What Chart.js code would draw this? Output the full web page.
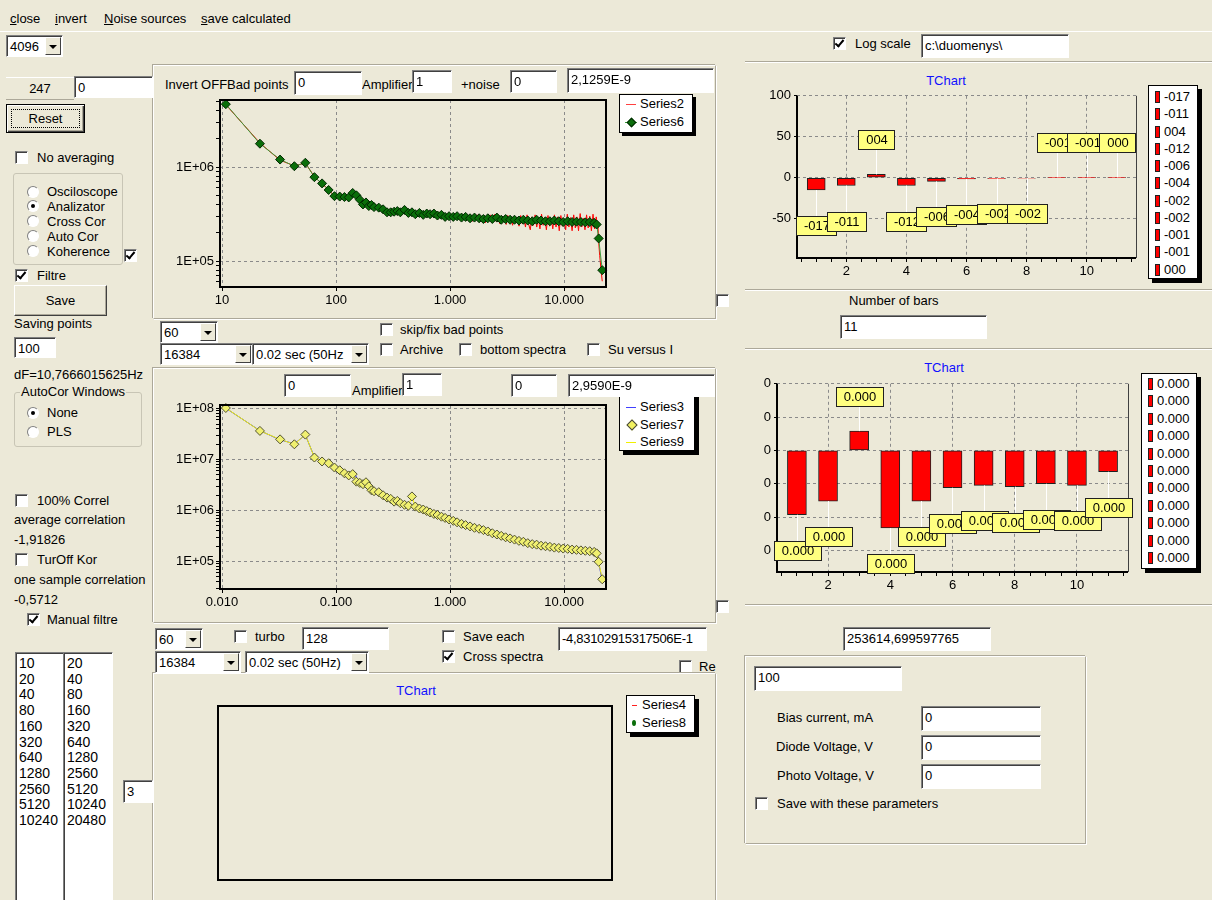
<!DOCTYPE html>
<html><head><meta charset="utf-8">
<script src="https://cdn.jsdelivr.net/npm/chart.js@4.4.1/dist/chart.umd.min.js"></script>
<style>
html,body{margin:0;padding:0;background:#ece9d8;width:1212px;height:900px;overflow:hidden;font:13px "Liberation Sans",Arial,sans-serif;color:#000}
.a{position:absolute}
.t{position:absolute;white-space:nowrap;line-height:15px}
.inp{position:absolute;background:#fff;box-sizing:border-box;border:1px solid;border-color:#808080 #fff #fff #808080;box-shadow:inset 1px 1px 0 #404040;padding:3px 0 0 3px;white-space:nowrap;overflow:hidden;line-height:15px;z-index:5}
.btn{position:absolute;box-sizing:border-box;background:#ece9d8;border:1px solid;border-color:#fff #404040 #404040 #fff;box-shadow:inset -1px -1px 0 #aca899;text-align:center}
.cb{position:absolute;width:13px;height:13px;box-sizing:border-box;background:#fff;border:1px solid;border-color:#808080 #fff #fff #808080;box-shadow:inset 1px 1px 0 #404040}
.cb.on::after{content:"";position:absolute;left:3px;top:0px;width:3px;height:7px;border:solid #000;border-width:0 2px 2px 0;transform:rotate(40deg)}
.rd{position:absolute;width:12px;height:12px;border-radius:50%;background:#fff;box-sizing:border-box;border:1px solid;border-color:#808080 #fff #fff #808080}
.rd.on::after{content:"";position:absolute;left:3px;top:3px;width:4px;height:4px;border-radius:50%;background:#000}
.dd{position:absolute;top:1px;right:1px;bottom:1px;width:16px;background:#ece9d8;border:1px solid;border-color:#fff #404040 #404040 #fff;box-sizing:border-box}
.dd::after{content:"";position:absolute;left:3px;top:7px;border:solid transparent;border-width:4px 4px 0 4px;border-top-color:#000}
.panel{position:absolute;box-sizing:border-box;border:1px solid;border-color:#fff #aca899 #aca899 #fff;box-shadow:-1px -1px 0 #aca899, 1px 1px 0 #fff}
.grp{position:absolute;box-sizing:border-box;border:1px solid #c8c5b5;border-radius:3px}
.leg{position:absolute;background:#fff;border:1px solid #000;box-sizing:border-box;z-index:3}
.ttl{position:absolute;color:#1010ff;white-space:nowrap;transform:translateX(-50%)}
.hl{position:absolute;height:1px;background:#aca899;border-bottom:1px solid #fff}
.lst{position:absolute;background:#fff;box-sizing:border-box;border:1px solid;border-color:#808080 #fff #fff #808080;box-shadow:inset 1px 1px 0 #404040;padding:3px 0 0 3px;font-size:14px;line-height:15.7px}
canvas{position:absolute;z-index:2}
</style>
</head>
<body>
<!-- menu -->
<div class="t" style="left:10px;top:11px"><u>c</u>lose</div>
<div class="t" style="left:55px;top:11px"><u>i</u>nvert</div>
<div class="t" style="left:104px;top:11px"><u>N</u>oise sources</div>
<div class="t" style="left:201px;top:11px"><u>s</u>ave calculated</div>
<div class="a" style="left:0;top:31px;width:1212px;height:1px;background:#fff"></div>

<!-- left column -->
<div class="inp" style="left:6px;top:35px;width:57px;height:22px">4096<div class="dd"></div></div>
<div class="a" style="left:6px;top:77px;width:68px;height:21px;border-bottom:1px solid #aca899;border-top:1px solid #fff;text-align:center;line-height:21px">247</div>
<div class="inp" style="left:74px;top:76px;width:79px;height:22px">0</div>
<div class="btn" style="left:6px;top:104px;width:79px;height:29px;border:1px solid #000;box-shadow:inset 1px 1px 0 #fff,inset -1px -1px 0 #404040,inset -2px -2px 0 #aca899;line-height:27px"><div class="a" style="left:4px;top:4px;right:4px;bottom:4px;border:1px dotted #000"></div>Reset</div>
<div class="cb" style="left:15px;top:151px"></div><div class="t" style="left:37px;top:150px">No averaging</div>
<div class="grp" style="left:13px;top:173px;width:110px;height:92px"></div>
<div class="rd" style="left:27px;top:186px"></div><div class="t" style="left:47px;top:184px">Osciloscope</div>
<div class="rd on" style="left:27px;top:200px"></div><div class="t" style="left:47px;top:199px">Analizator</div>
<div class="rd" style="left:27px;top:215px"></div><div class="t" style="left:47px;top:214px">Cross Cor</div>
<div class="rd" style="left:27px;top:230px"></div><div class="t" style="left:47px;top:229px">Auto Cor</div>
<div class="rd" style="left:27px;top:245px"></div><div class="t" style="left:47px;top:244px">Koherence</div>
<div class="cb on" style="left:124px;top:249px"></div>
<div class="cb on" style="left:15px;top:269px"></div><div class="t" style="left:37px;top:268px">Filtre</div>
<div class="btn" style="left:14px;top:285px;width:93px;height:31px;line-height:29px">Save</div>
<div class="t" style="left:14px;top:316px">Saving points</div>
<div class="inp" style="left:14px;top:337px;width:42px;height:21px">100</div>
<div class="t" style="left:14px;top:367px">dF=10,7666015625Hz</div>
<div class="grp" style="left:14px;top:392px;width:128px;height:55px"></div>
<div class="t" style="left:20px;top:384px;background:#ece9d8;padding:0 1px">AutoCor Windows</div>
<div class="rd on" style="left:27px;top:407px"></div><div class="t" style="left:47px;top:405px">None</div>
<div class="rd" style="left:27px;top:426px"></div><div class="t" style="left:47px;top:424px">PLS</div>
<div class="cb" style="left:15px;top:494px"></div><div class="t" style="left:37px;top:493px">100% Correl</div>
<div class="t" style="left:14px;top:512px">average correlation</div>
<div class="t" style="left:14px;top:532px">-1,91826</div>
<div class="cb" style="left:15px;top:553px"></div><div class="t" style="left:37px;top:552px">TurOff Kor</div>
<div class="t" style="left:14px;top:572px">one sample correlation</div>
<div class="t" style="left:14px;top:592px">-0,5712</div>
<div class="cb on" style="left:27px;top:613px"></div><div class="t" style="left:47px;top:612px">Manual filtre</div>
<div class="lst" style="left:15px;top:652px;width:49px;height:260px">10<br>20<br>40<br>80<br>160<br>320<br>640<br>1280<br>2560<br>5120<br>10240</div>
<div class="lst" style="left:63px;top:652px;width:50px;height:260px">20<br>40<br>80<br>160<br>320<br>640<br>1280<br>2560<br>5120<br>10240<br>20480</div>
<div class="inp" style="left:123px;top:780px;width:30px;height:23px">3</div>

<!-- top panel -->
<div class="panel" style="left:153px;top:65px;width:563px;height:254px"></div>
<div class="t" style="left:165px;top:77px">Invert OFFBad points</div>
<div class="inp" style="left:294px;top:71px;width:68px;height:24px">0</div>
<div class="t" style="left:362px;top:77px">Amplifier</div>
<div class="inp" style="left:412px;top:70px;width:40px;height:23px">1</div>
<div class="t" style="left:461px;top:77px">+noise</div>
<div class="inp" style="left:510px;top:70px;width:47px;height:23px">0</div>
<div class="inp" style="left:567px;top:68px;width:147px;height:25px">2,1259E-9</div>
<div class="leg" style="left:619px;top:94px;width:74px;height:39px;box-shadow:3px 3px 0 #000">
  <div class="a" style="left:6px;top:9px;width:10px;height:1px;background:#ff4040"></div><div class="t" style="left:20px;top:1px">Series2</div>
  <div class="a" style="left:5px;top:27px;width:12px;height:1px;background:#3c9c3c"></div><div class="a" style="left:8px;top:24px;width:5px;height:5px;background:#0a6e0a;border:1px solid #002800;transform:rotate(45deg)"></div><div class="t" style="left:20px;top:19px">Series6</div>
</div>
<canvas id="c1" width="460" height="217" style="left:155px;top:90px"></canvas>

<div class="inp" style="left:160px;top:321px;width:58px;height:22px">60<div class="dd"></div></div>
<div class="inp" style="left:160px;top:343px;width:93px;height:22px">16384<div class="dd"></div></div>
<div class="inp" style="left:252px;top:343px;width:117px;height:22px">0.02 sec (50Hz<div class="dd"></div></div>
<div class="cb" style="left:380px;top:323px"></div><div class="t" style="left:400px;top:322px">skip/fix bad points</div>
<div class="cb" style="left:380px;top:343px"></div><div class="t" style="left:400px;top:342px">Archive</div>
<div class="cb" style="left:459px;top:343px"></div><div class="t" style="left:480px;top:342px">bottom spectra</div>
<div class="cb" style="left:587px;top:343px"></div><div class="t" style="left:608px;top:342px">Su versus I</div>
<div class="cb" style="left:716px;top:294px"></div>

<!-- middle panel -->
<div class="panel" style="left:153px;top:368px;width:563px;height:255px"></div>
<div class="inp" style="left:284px;top:374px;width:67px;height:23px">0</div>
<div class="t" style="left:352px;top:383px">Amplifier</div>
<div class="inp" style="left:402px;top:373px;width:40px;height:23px">1</div>
<div class="inp" style="left:511px;top:374px;width:46px;height:23px">0</div>
<div class="inp" style="left:568px;top:374px;width:147px;height:23px">2,9590E-9</div>
<div class="leg" style="left:619px;top:390px;width:76px;height:61px;box-shadow:4px 4px 0 #000">
  <div class="a" style="left:6px;top:16px;width:10px;height:1px;background:#4040ff"></div><div class="t" style="left:20px;top:8px">Series3</div>
  <div class="a" style="left:8px;top:30px;width:6px;height:6px;background:#f0f060;border:1px solid #404040;transform:rotate(45deg)"></div><div class="t" style="left:20px;top:26px">Series7</div>
  <div class="a" style="left:6px;top:51px;width:10px;height:1px;background:#f0f000"></div><div class="t" style="left:20px;top:43px">Series9</div>
</div>
<canvas id="c2" width="460" height="218" style="left:155px;top:395px"></canvas>
<div class="cb" style="left:716px;top:600px"></div>

<!-- below middle -->
<div class="inp" style="left:155px;top:628px;width:48px;height:22px">60<div class="dd"></div></div>
<div class="cb" style="left:234px;top:630px"></div><div class="t" style="left:255px;top:629px">turbo</div>
<div class="inp" style="left:302px;top:627px;width:87px;height:23px">128</div>
<div class="inp" style="left:155px;top:651px;width:86px;height:22px">16384<div class="dd"></div></div>
<div class="inp" style="left:245px;top:651px;width:124px;height:22px">0.02 sec (50Hz)<div class="dd"></div></div>
<div class="cb" style="left:442px;top:630px"></div><div class="t" style="left:463px;top:629px">Save each</div>
<div class="cb on" style="left:442px;top:650px"></div><div class="t" style="left:463px;top:649px">Cross spectra</div>
<div class="inp" style="left:558px;top:627px;width:149px;height:24px;letter-spacing:-0.3px">-4,83102915317506E-1</div>
<div class="cb" style="left:679px;top:660px"></div><div class="t" style="left:699px;top:659px">Re</div>

<!-- bottom panel -->
<div class="panel" style="left:153px;top:673px;width:563px;height:240px"></div>
<div class="ttl" style="left:416px;top:683px">TChart</div>
<canvas id="c5" width="420" height="200" style="left:205px;top:698px"></canvas>
<div class="leg" style="left:626px;top:695px;width:69px;height:38px;box-shadow:4px 4px 0 #000">
  <div class="a" style="left:5px;top:9px;width:5px;height:1px;background:#ff2020"></div><div class="t" style="left:15px;top:1px">Series4</div>
  <div class="a" style="left:5px;top:24px;width:4px;height:6px;border-radius:50%;background:#0a6e0a"></div><div class="t" style="left:15px;top:19px">Series8</div>
</div>

<!-- right side -->
<div class="cb on" style="left:833px;top:37px"></div><div class="t" style="left:855px;top:36px">Log scale</div>
<div class="inp" style="left:921px;top:34px;width:148px;height:24px">c:\duomenys\</div>
<div class="hl" style="left:745px;top:61px;width:467px"></div>
<div class="ttl" style="left:946px;top:73px">TChart</div>
<canvas id="c3" width="385" height="197" style="left:760px;top:85px"></canvas>
<div id="leg3" class="leg" style="left:1148px;top:85px;width:50px;height:194px;box-shadow:4px 4px 0 #000"></div>
<div class="hl" style="left:745px;top:289px;width:467px"></div>
<div class="t" style="left:849px;top:293px">Number of bars</div>
<div class="inp" style="left:840px;top:315px;width:147px;height:24px">11</div>
<div class="hl" style="left:745px;top:348px;width:467px"></div>
<div class="ttl" style="left:944px;top:360px">TChart</div>
<canvas id="c4" width="385" height="223" style="left:750px;top:373px"></canvas>
<div id="leg4" class="leg" style="left:1141px;top:373px;width:56px;height:196px;box-shadow:4px 4px 0 #000"></div>
<div class="hl" style="left:745px;top:604px;width:467px"></div>
<div class="inp" style="left:843px;top:627px;width:148px;height:24px">253614,699597765</div>
<div class="grp" style="left:745px;top:656px;width:341px;height:188px;border-radius:0;border-color:#fff #aca899 #aca899 #fff;box-shadow:-1px -1px 0 #aca899,1px 1px 0 #fff"></div>
<div class="inp" style="left:754px;top:666px;width:148px;height:25px">100</div>
<div class="t" style="left:777px;top:710px">Bias current, mA</div>
<div class="inp" style="left:921px;top:706px;width:120px;height:25px">0</div>
<div class="t" style="left:776px;top:739px">Diode Voltage, V</div>
<div class="inp" style="left:921px;top:735px;width:120px;height:25px">0</div>
<div class="t" style="left:777px;top:768px">Photo Voltage, V</div>
<div class="inp" style="left:921px;top:764px;width:120px;height:25px">0</div>
<div class="cb" style="left:755px;top:797px"></div><div class="t" style="left:777px;top:796px">Save with these parameters</div>

<script>
// ---------- DATA ----------
// Top spectrum (Hz)
const s6Freq = [10.8,21.5,32.3,43.1,53.8,64.6,75.4,86.1,96.9,107.7,
 118.4,129.2,140,150.7,161.5,172.3,183,193.8,204.6,215.3,
 236.9,258.4,280,301.5,323,344.6,366.1,398.4,430.7,463,
 495.3,538.3,581.4,624.5,667.5,721.4,775.2,839.8,904.4,979.8,
 1066,1152,1260,1368,1497,1637,1798,1960,2143,2347,
 2573,2810,3070,3360,3672,4016,4393,4802,5254,5738,
 6277,6869,7505,8206,8980,9818,10740,11740,12840,14040,
 15350,16780,18350,19300,20100,21600];
const s6Val = [4.66e6,1.77e6,1.2e6,1.02e6,1.11e6,7.8e5,6.7e5,5.7e5,4.9e5,4.85e5,
 4.8e5,4.75e5,5.3e5,5.0e5,4.5e5,4.0e5,4.2e5,3.85e5,3.95e5,3.75e5,
 3.7e5,3.55e5,3.3e5,3.3e5,3.35e5,3.4e5,3.3e5,3.5e5,3.25e5,3.3e5,
 3.15e5,3.25e5,3.1e5,3.2e5,3.15e5,3.2e5,3.05e5,3.1e5,2.95e5,3.0e5,
 2.95e5,3.0e5,2.9e5,2.95e5,2.85e5,2.9e5,2.85e5,2.8e5,2.85e5,2.8e5,
 2.9e5,2.75e5,2.8e5,2.75e5,2.75e5,2.7e5,2.75e5,2.7e5,2.65e5,2.75e5,
 2.7e5,2.65e5,2.65e5,2.7e5,2.65e5,2.6e5,2.65e5,2.6e5,2.62e5,2.6e5,
 2.58e5,2.6e5,2.55e5,2.45e5,1.74e5,8.0e4];
const s2Freq = [10.8,21.5,32.3,43.1,53.8,64.6,75.4,86.1,96.9,107.7,
 118.4,129.2,140,150.7,161.5,172.3,183,193.8,204.6,215.3,236.9,258.4,280,
 300,310,320,331,342,353,365,377,389,402,
 415,429,443,458,473,488,504,521,538,556,
 574,593,613,633,654,675,698,721,744,769,
 794,820,847,875,904,934,965,997,1030,1064,
 1099,1135,1172,1211,1251,1292,1335,1379,1424,1471,
 1520,1570,1622,1675,1730,1787,1846,1907,1970,2035,
 2102,2172,2243,2317,2394,2473,2554,2639,2726,2816,
 2909,3005,3104,3206,3312,3421,3534,3651,3771,3896,
 4024,4157,4294,4436,4583,4734,4890,5051,5218,5390,
 5568,5752,5942,6138,6341,6550,6766,6990,7220,7459,
 7705,7959,8222,8493,8773,9063,9362,9671,9990,10320,
 10660,11010,11380,11750,12140,12540,12960,13380,13830,14280,
 14750,15240,15740,16260,16800,17350,17930,18520,19130,19500,
 19800,20100,20500,21000,21600];
const s2Val = [4.6e6,1.8e6,1.18e6,1.03e6,1.1e6,7.9e5,6.6e5,5.8e5,4.85e5,4.9e5,
 4.7e5,4.9e5,5.4e5,4.9e5,4.6e5,3.95e5,4.3e5,3.8e5,4.0e5,3.7e5,3.75e5,3.5e5,3.35e5,
 3.25e5,3.45e5,3.2e5,3.4e5,3.3e5,3.5e5,3.2e5,3.45e5,3.55e5,3.3e5,
 3.2e5,3.45e5,3.15e5,3.4e5,3.25e5,3.05e5,3.35e5,3.2e5,3.4e5,3.0e5,
 3.3e5,3.1e5,3.35e5,3.05e5,3.3e5,3.0e5,3.25e5,3.35e5,2.95e5,3.2e5,
 3.0e5,3.25e5,2.9e5,3.2e5,3.05e5,2.85e5,3.2e5,2.95e5,3.15e5,2.8e5,
 3.2e5,2.9e5,3.1e5,2.75e5,3.15e5,2.85e5,3.05e5,2.7e5,3.1e5,2.8e5,
 3.0e5,2.65e5,3.05e5,2.75e5,3.1e5,2.6e5,2.95e5,2.75e5,3.05e5,2.55e5,
 2.9e5,2.7e5,3.1e5,2.55e5,2.95e5,3.15e5,2.6e5,2.9e5,2.5e5,3.0e5,
 2.65e5,2.9e5,2.45e5,3.05e5,2.6e5,2.85e5,2.4e5,3.0e5,2.55e5,2.9e5,
 2.35e5,3.05e5,2.5e5,2.85e5,2.3e5,3.1e5,2.45e5,2.15e5,2.95e5,2.4e5,
 3.1e5,2.3e5,2.85e5,2.2e5,3.15e5,2.4e5,2.9e5,2.15e5,3.05e5,2.35e5,
 2.85e5,2.2e5,3.1e5,2.3e5,2.95e5,2.1e5,3.05e5,2.35e5,2.8e5,2.15e5,
 3.15e5,2.3e5,2.9e5,2.1e5,3.1e5,2.25e5,2.95e5,2.1e5,3.2e5,2.3e5,
 2.85e5,2.15e5,3.1e5,2.25e5,3.0e5,2.1e5,3.15e5,2.2e5,2.95e5,2.3e5,
 2.4e5,1.6e5,1.15e5,8.5e4,6.1e4];
const topXTicks = [10,100,1000,10000];
const topYTicks = [6e4,7e4,8e4,9e4,1e5,2e5,3e5,4e5,5e5,6e5,7e5,8e5,9e5,1e6,2e6,3e6,4e6,5e6];

// Middle spectrum (kHz)
const s7Freq = [0.0108,0.0215,0.0323,0.0431,0.0538,0.0646,0.0754,0.0861,0.0969,0.1077,
 0.1184,0.1292,0.140,0.1507,0.1615,0.1723,0.183,0.1938,0.2046,0.2153,
 0.2369,0.2584,0.280,0.3015,0.323,0.3446,0.3661,0.3984,0.4307,0.463,
 0.4953,0.5383,0.5814,0.6245,0.6675,0.7214,0.7752,0.8398,0.9044,0.9798,
 1.066,1.152,1.260,1.368,1.497,1.637,1.798,1.960,2.143,2.347,
 2.573,2.810,3.070,3.360,3.672,4.016,4.393,4.802,5.254,5.738,
 6.277,6.869,7.505,8.206,8.980,9.818,10.74,11.74,12.84,14.04,
 15.35,16.78,18.35,19.30,20.10,21.60];
const s7Val = [1.03e8,3.66e7,2.5e7,2.0e7,3.1e7,1.1e7,9.2e6,8.5e6,7.0e6,6.2e6,
 5.4e6,4.9e6,5.2e6,3.7e6,3.5e6,3.3e6,3.6e6,3.0e6,2.5e6,2.4e6,
 2.3e6,2.0e6,1.8e6,1.7e6,1.5e6,1.55e6,1.4e6,1.3e6,1.25e6,1.9e6,
 1.2e6,1.1e6,1.05e6,9.8e5,9.2e5,8.6e5,8.2e5,7.6e5,7.2e5,6.7e5,
 6.3e5,5.9e5,5.5e5,5.2e5,4.9e5,4.6e5,4.4e5,4.15e5,3.9e5,3.6e5,
 3.4e5,3.2e5,3.0e5,2.85e5,2.7e5,2.55e5,2.45e5,2.3e5,2.2e5,2.15e5,
 2.05e5,2.0e5,1.95e5,1.88e5,1.85e5,1.8e5,1.78e5,1.72e5,1.7e5,1.66e5,
 1.63e5,1.6e5,1.55e5,1.45e5,9.9e4,4.5e4];
const s3Freq = [0.0108,0.0215,0.0323,0.0431,0.0538,0.0646,0.0754,0.0861,0.0969,0.1077,
 0.1184,0.1292,0.135,0.146,0.157,0.168,0.178,0.189,0.2,0.21,
 0.226,0.247,0.269,0.29,0.312,0.334,0.355,0.38,0.415,0.447,
 0.48,0.51,0.56,0.6,0.645,0.69,0.745,0.8,0.87,0.94,
 1.02,1.1,1.2,1.31,1.43,1.56,1.71,1.88,2.05,2.24,
 2.46,2.69,2.94,3.21,3.51,3.84,4.2,4.6,5.03,5.5,
 6.0,6.57,7.19,7.86,8.6,9.4,10.28,11.24,12.29,13.44,
 14.7,16.07,17.57,18.8,19.7,20.1,21.6];
const s3Val = [1.02e8,3.7e7,2.45e7,2.05e7,3.05e7,1.12e7,9.0e6,8.6e6,6.9e6,6.3e6,
 5.3e6,5.0e6,4.6e6,5.4e6,3.6e6,3.4e6,3.9e6,3.3e6,2.6e6,2.5e6,
 2.2e6,2.1e6,1.85e6,1.65e6,1.6e6,1.45e6,1.5e6,1.35e6,1.3e6,1.15e6,
 1.3e6,1.05e6,1.15e6,9.5e5,1.0e6,8.6e5,8.8e5,7.6e5,7.9e5,6.8e5,
 7.0e5,5.9e5,6.0e5,5.2e5,5.4e5,4.6e5,4.8e5,4.1e5,4.3e5,3.7e5,
 3.7e5,3.2e5,3.3e5,2.8e5,2.95e5,2.55e5,2.65e5,2.3e5,2.4e5,2.1e5,
 2.25e5,1.95e5,2.1e5,1.8e5,1.95e5,1.72e5,1.88e5,1.65e5,1.8e5,1.6e5,
 1.75e5,1.55e5,1.68e5,1.5e5,1.3e5,9.5e4,4.2e4];
const midXTicks = [0.01,0.1,1,10];
const midYTicks = [3e4,4e4,5e4,6e4,7e4,8e4,9e4,1e5,2e5,3e5,4e5,5e5,6e5,7e5,8e5,9e5,
 1e6,2e6,3e6,4e6,5e6,6e6,7e6,8e6,9e6,1e7,2e7,3e7,4e7,5e7,6e7,7e7,8e7,9e7,1e8];

// Bar charts
const barX = [1,2,3,4,5,6,7,8,9,10,11];
const topBarVals = [-15,-9.5,4,-9.5,-4.5,-1.6,-0.9,-0.6,0.4,0.4,0.3];
const topBarLabels = ['-017','-011','004','-012','-006','-004','-002','-002','-001','-001','000'];
const midBarVals = [-1.93e-4,-1.52e-4,0.58e-4,-2.33e-4,-1.52e-4,-1.12e-4,-1.05e-4,-1.09e-4,-1.0e-4,-1.05e-4,-0.64e-4];
const barXTicks = [0.5,1,1.5,2,2.5,3,3.5,4,4.5,5,5.5,6,6.5,7,7.5,8,8.5,9,9.5,10,10.5,11,11.5];
const barXLabels = [2,4,6,8,10];
const topBarYTicks = [-50,0,50,100];
const midBarYTicks = [-3e-4,-2e-4,-1e-4,0,1e-4,2e-4];

// Bottom (empty) chart
const s4Val = [];
const s8Val = [];

// ---------- helpers ----------
Chart.defaults.font.family = '"Liberation Sans", Arial, sans-serif';
Chart.defaults.font.size = 13;
Chart.defaults.color = '#000';
const pts = (xs, ys) => xs.map((x, i) => ({x, y: ys[i]}));
const isDecade = v => Math.abs(Math.log10(v) - Math.round(Math.log10(v))) < 1e-6;
const expLabel = v => { const e = Math.round(Math.log10(v)); return '1E' + (e < 0 ? '-' : '+') + String(Math.abs(e)).padStart(2, '0'); };
const thou = v => String(Math.round(v)).replace(/\B(?=(\d{3})+(?!\d))/g, '.');
const GRID = '#8a8a8a', NONE = 'rgba(0,0,0,0)';
const setTicks = arr => a => { a.ticks = arr.map(v => ({value: v})); };

const logFrame = {id: 'logFrame', afterDatasetsDraw(c) {
  const {left, right, top, bottom} = c.chartArea, x = c.ctx;
  x.save(); x.strokeStyle = '#000'; x.lineWidth = 2;
  x.strokeRect(left, top, right - left, bottom - top); x.restore();
}};
const barFrame = {id: 'barFrame', beforeDatasetsDraw(c) {
  const {left, right, top, bottom} = c.chartArea, x = c.ctx;
  x.save(); x.strokeStyle = '#404040'; x.lineWidth = 1;
  x.beginPath(); x.moveTo(Math.round(right) + 0.5, top); x.lineTo(Math.round(right) + 0.5, bottom); x.stroke();
  x.strokeStyle = '#000'; x.lineWidth = 2;
  x.beginPath(); x.moveTo(left, top); x.lineTo(left, bottom); x.lineTo(right, bottom); x.stroke();
  x.restore();
}};
function marks(labels) {
  return {id: 'marks', afterDatasetsDraw(c) {
    const ctx = c.ctx, meta = c.getDatasetMeta(0), d = c.data.datasets[0].data;
    ctx.save();
    ctx.font = '13px "Liberation Sans", Arial, sans-serif';
    ctx.textAlign = 'center'; ctx.textBaseline = 'middle';
    meta.data.forEach((el, i) => {
      const up = d[i].y >= 0, txt = labels[i];
      const w = Math.round(ctx.measureText(txt).width) + 14, h = 19;
      const x = Math.round(el.x), y0 = el.y;
      const top = up ? Math.round(y0 - 25 - h) : Math.round(y0 + 26);
      ctx.strokeStyle = '#fff'; ctx.lineWidth = 1;
      ctx.beginPath(); ctx.moveTo(x + 0.5, y0); ctx.lineTo(x + 0.5, up ? top + h : top); ctx.stroke();
      const bx = Math.round(x - w / 2);
      ctx.fillStyle = '#ffff80'; ctx.fillRect(bx, top, w, h);
      ctx.strokeStyle = '#202020'; ctx.strokeRect(bx + 0.5, top + 0.5, w, h);
      ctx.fillStyle = '#000'; ctx.fillText(txt, x + 1, top + h / 2 + 1);
    });
    ctx.restore();
  }};
}
const baseOpts = (pad) => ({responsive: false, animation: false, events: [],
  layout: {padding: pad}, plugins: {legend: {display: false}, tooltip: {enabled: false}}});

function logScales(xmin, xmax, xt, xfmt, ymin, ymax, yt, yw, xh) {
  return {
    x: {type: 'logarithmic', min: xmin, max: xmax, afterBuildTicks: setTicks(xt), afterFit: a => { a.height = xh; },
      ticks: {callback: v => xfmt(v), autoSkip: false, maxRotation: 0, padding: 2},
      grid: {color: GRID, tickColor: '#000', tickLength: 4}, border: {display: false, dash: [3, 3]}},
    y: {type: 'logarithmic', min: ymin, max: ymax, afterBuildTicks: setTicks(yt), afterFit: a => { a.width = yw; },
      ticks: {callback: v => isDecade(v) ? expLabel(v) : '', autoSkip: false, padding: 2},
      grid: {color: c => isDecade(c.tick.value) ? GRID : NONE, tickColor: '#000', tickLength: 4}, border: {display: false, dash: [3, 3]}}
  };
}

// ---------- Chart 1: top spectrum ----------
new Chart(document.getElementById('c1'), {
  type: 'line',
  data: {datasets: [
    {label: 'Series6', data: pts(s6Freq, s6Val), borderColor: '#3c9c3c', borderWidth: 1, tension: 0,
     pointStyle: 'rectRot', pointRadius: 4.5, pointBackgroundColor: '#0a6e0a', pointBorderColor: '#002800', pointBorderWidth: 1, clip: false, order: 1},
    {label: 'Series2', data: pts(s2Freq, s2Val), borderColor: '#ff0000', borderWidth: 1, pointRadius: 0, tension: 0, order: 2}
  ]},
  options: Object.assign(baseOpts({top: 10, right: 9, left: 0, bottom: 0}), {
    scales: logScales(9.6, 23300, topXTicks, thou, 5.3e4, 5.16e6, topYTicks, 65, 20)}),
  plugins: [logFrame]
});

// ---------- Chart 2: middle spectrum ----------
new Chart(document.getElementById('c2'), {
  type: 'line',
  data: {datasets: [
    {label: 'Series7', data: pts(s7Freq, s7Val), showLine: false, pointStyle: 'rectRot', pointRadius: 4.5,
     pointBackgroundColor: '#f0f070', pointBorderColor: '#505030', pointBorderWidth: 1, clip: false, order: 1},
    {label: 'Series9', data: pts(s7Freq, s7Val), borderColor: '#f5f500', borderWidth: 1, pointRadius: 0, tension: 0, order: 2},
    {label: 'Series3', data: pts(s3Freq, s3Val), borderColor: '#2020ff', borderWidth: 1, pointRadius: 0, tension: 0, order: 3}
  ]},
  options: Object.assign(baseOpts({top: 10, right: 9, left: 0, bottom: 0}), {
    scales: logScales(0.0096, 23.3, midXTicks, v => v.toFixed(3), 2.9e4, 1.18e8, midYTicks, 65, 24)}),
  plugins: [logFrame]
});

// ---------- bar charts ----------
function barScales(ymin, ymax, yt, yfmt, yw, xh) {
  return {
    x: {type: 'linear', min: 0.36, max: 11.64, offset: false, afterBuildTicks: setTicks(barXTicks), afterFit: a => { a.height = xh; },
      ticks: {callback: v => barXLabels.includes(v) ? String(v) : '', autoSkip: false, maxRotation: 0, padding: 2},
      grid: {color: c => barXLabels.includes(c.tick.value) ? GRID : NONE, tickColor: '#000', tickLength: 4, offset: false},
      border: {display: false, dash: [3, 3]}},
    y: {min: ymin, max: ymax, afterBuildTicks: setTicks(yt), afterFit: a => { a.width = yw; },
      ticks: {callback: v => yfmt(v), autoSkip: false, padding: 3},
      grid: {color: GRID, tickColor: '#000', tickLength: 3}, border: {display: false, dash: [3, 3]}}
  };
}
const barDs = (vals, thick) => ({label: 'Bars', data: pts(barX, vals), backgroundColor: '#ff0000', borderColor: '#202020',
  borderWidth: 1, borderSkipped: false, barThickness: thick});

new Chart(document.getElementById('c3'), {
  type: 'bar',
  data: {datasets: [barDs(topBarVals, 18)]},
  options: Object.assign(baseOpts({top: 10, right: 9, left: 0, bottom: 0}), {
    scales: barScales(-98, 100, topBarYTicks, v => String(v), 37, 24)}),
  plugins: [barFrame, marks(topBarLabels)]
});

const fmt3 = v => (Math.round(v * 1000) / 1000 + 0).toFixed(3);
const midBarLabels = midBarVals.map(fmt3);
new Chart(document.getElementById('c4'), {
  type: 'bar',
  data: {datasets: [barDs(midBarVals, 19)]},
  options: Object.assign(baseOpts({top: 10, right: 7, left: 0, bottom: 0}), {
    scales: barScales(-3.65e-4, 2e-4, midBarYTicks, v => String(Math.round(v) + 0), 27, 24)}),
  plugins: [barFrame, marks(midBarLabels)]
});

// ---------- bottom empty chart ----------
new Chart(document.getElementById('c5'), {
  type: 'line',
  data: {datasets: [
    {label: 'Series4', data: s4Val, borderColor: '#ff0000'},
    {label: 'Series8', data: s8Val, borderColor: '#0a6e0a'}
  ]},
  options: Object.assign(baseOpts({top: 8, right: 13, left: 13, bottom: 18}), {
    scales: {x: {display: false}, y: {display: false}}}),
  plugins: [logFrame]
});

// ---------- bar legends (HTML) ----------
function barLegend(id, labels, rowH, top0) {
  const el = document.getElementById(id);
  labels.forEach((s, i) => {
    const y = top0 + i * rowH;
    const ic = document.createElement('div'); ic.className = 'a';
    ic.style.cssText = `left:6px;top:${y - 6}px;width:3px;height:10px;background:#ff0000;border:1px solid #202020`;
    const t = document.createElement('div'); t.className = 't';
    t.style.cssText = `left:15px;top:${y - 8}px`; t.textContent = s;
    el.appendChild(ic); el.appendChild(t);
  });
}
barLegend('leg3', topBarLabels, 17.26, 11);
barLegend('leg4', midBarLabels, 17.4, 10);
</script>
</body></html>
